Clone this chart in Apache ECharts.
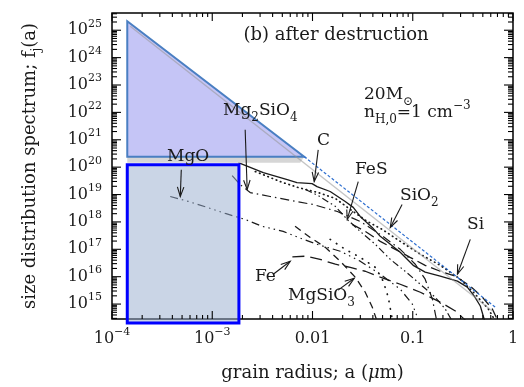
<!DOCTYPE html>
<html><head><meta charset="utf-8">
<script src="https://cdn.jsdelivr.net/npm/echarts@6/dist/echarts.min.js"></script>
<style>html,body{margin:0;padding:0;background:#fff}#c{width:524px;height:387px}</style>
</head><body><div id="c"></div>
<script>
const FONT = 'DejaVu Serif';
// ---- axis ranges and tick labels ----
const xMin = 1e-4, xMax = 1;
const yMin = 2.85e14, yMax = 4.26e25;
const xTickValues = [1e-4, 1e-3, 0.01, 0.1, 1];
const xTickText = [['10', '−4'], ['10', '−3'], ['0.01', ''], ['0.1', ''], ['1', '']];
const yTickValues = [1e15, 1e16, 1e17, 1e18, 1e19, 1e20, 1e21, 1e22, 1e23, 1e24, 1e25];
const yTickText = ['15', '16', '17', '18', '19', '20', '21', '22', '23', '24', '25'];

// ---- size distributions (radius in micron, f_j(a)) ----
const cRadius = [1.82e-3, 3.23e-3, 5.6e-3, 7.0e-3, 9.9e-3, 1.11e-2, 1.5e-2, 2.12e-2, 2.55e-2, 2.99e-2, 3.94e-2, 4.74e-2, 5.97e-2, 7.5e-2, 0.101, 0.133, 0.188, 0.279, 0.35, 0.411, 0.472, 0.53];
const cF = [1.46e20, 6.3e19, 3.5e19, 2.7e19, 2.5e19, 1.95e19, 1.29e19, 5.6e18, 3.4e18, 1.58e18, 6.3e17, 2.97e17, 1.52e17, 7.8e16, 2.6e16, 1.46e16, 1.04e16, 6.9e15, 4.15e15, 1.95e15, 8.5e14, 2.0e14];

const sio2Radius = [2.69e-3, 3.23e-3, 4.76e-3, 7.2e-3, 1.14e-2, 1.69e-2, 2.38e-2, 3.52e-2, 4.97e-2, 7.5e-2, 0.119, 0.188, 0.298, 0.42, 0.568, 0.667];
const sio2F = [6.9e19, 5.3e19, 2.97e19, 1.8e19, 1.18e19, 7.2e18, 2.85e18, 1.04e18, 5.3e17, 1.95e17, 6.6e16, 2.6e16, 8.1e15, 2.3e15, 6.6e14, 2.4e14];

const siRadius = [2.49e-2, 3.36e-2, 4.74e-2, 6.7e-2, 9.4e-2, 0.133, 0.188, 0.266, 0.375, 0.494, 0.622, 0.74];
const siF = [8.1e17, 4.5e17, 1.95e17, 1.0e17, 5.1e16, 2.6e16, 1.58e16, 1.04e16, 4.5e15, 1.8e15, 6.6e14, 1.7e14];

const feRadius = [6.3e-3, 8.5e-3, 1.19e-2, 1.69e-2, 2.38e-2, 3.36e-2, 4.74e-2, 7.5e-2, 0.119, 0.188, 0.266, 0.342];
const feF = [5.3e16, 5.6e16, 4.3e16, 2.85e16, 2.2e16, 1.58e16, 9.6e15, 5.3e15, 2.7e15, 1.18e15, 5.6e14, 2.4e14];

const fesRadius = [8.5e-3, 1.14e-2, 1.69e-2, 2.22e-2, 2.99e-2, 4.23e-2, 5.97e-2, 8.4e-2, 0.119, 0.167, 0.211, 0.247];
const fesF = [1.52e19, 9.2e18, 3.7e18, 1.23e18, 4.5e17, 1.52e17, 4.3e16, 1.58e16, 5.3e15, 1.8e15, 6.6e14, 2.4e14];

const mg2sio4Radius = [1.58e-3, 1.9e-3, 2.39e-3, 3.78e-3, 6.0e-3, 1.02e-2, 1.77e-2, 2.99e-2, 4.74e-2, 7.5e-2, 0.106, 0.133, 0.157, 0.172];
const mg2sio4F = [4.9e19, 2.3e19, 1.18e19, 8.5e18, 6.1e18, 4.3e18, 2.4e18, 1.04e18, 3.5e17, 1.0e17, 2.85e16, 8.1e15, 1.52e15, 2.85e14];

const mgoRadius = [3.81e-4, 5.77e-4, 8.9e-4, 1.35e-3, 2.13e-3, 3.16e-3, 5.1e-3, 8.1e-3, 1.19e-2, 1.89e-2, 2.99e-2, 4.74e-2, 7.5e-2, 9.9e-2, 0.113];
const mgoF = [8.5e18, 5.6e18, 3.4e18, 2.04e18, 1.23e18, 6.9e17, 4.5e17, 2.31e17, 1.4e17, 8.5e16, 3.7e16, 1.23e16, 3.5e15, 1.0e15, 2.85e14];

const mgsio3Radius = [6.7e-3, 9.5e-3, 1.34e-2, 1.89e-2, 2.67e-2, 3.36e-2, 3.94e-2, 4.33e-2];
const mgsio3F = [6.9e17, 2.7e17, 1.18e17, 3.7e16, 9.6e15, 2.7e15, 7.8e14, 2.85e14];

const otherRadius = [1.5e-2, 2.12e-2, 2.99e-2, 4.23e-2, 5.07e-2, 5.69e-2, 6.24e-2];
const otherF = [2.31e17, 1.0e17, 5.1e16, 2.2e16, 6.9e15, 1.8e15, 2.85e14];

// ---- overlay shapes (data coordinates) ----
const triangleCorners = [[1.42e-4, 2.12e25], [1.42e-4, 2.41e20], [8.26e-3, 2.41e20]];
const bandCorners = [[1.42e-4, 2.41e20], [8.26e-3, 2.41e20], [7.55e-3, 1.46e20], [1.42e-4, 1.46e20]];
const shadowEnds = [[1.52e-4, 1.4e25], [0.622, 5.6e14]];
const dashEnds = [[8.26e-3, 2.41e20], [0.663, 7.8e14]];
const rectCorners = [[1.42e-4, 1.23e20], [1.845e-3, 1.23e20], [1.845e-3, 2.04e14], [1.42e-4, 2.04e14]];

// ---- annotation arrows: tail -> tip ----
const arrowTails = [[2.13e-3, 2.31e21], [4.91e-4, 8.1e19], [1.14e-2, 4.3e20], [2.86e-2, 2.97e19], [7.83e-2, 4.33e18], [0.375, 2.31e17], [4.06e-3, 1.23e16], [1.8e-2, 3.23e15]];
const arrowTips = [[2.23e-3, 1.52e19], [4.8e-4, 8.5e18], [1.04e-2, 2.97e19], [2.22e-2, 1.23e18], [5.97e-2, 6.3e17], [0.279, 1.23e16], [6.0e-3, 3.66e16], [2.61e-2, 8.8e15]];

const zip = (a, b) => a.map((v, i) => [v, b[i]]);
const INK = '#1a1a1a';

function lineSeries(name, rx, fy, type, width, cap) {
  return {
    type: 'line', name, data: zip(rx, fy), symbol: 'none', smooth: false, z: 2,
    lineStyle: { color: INK, width: width || 1.2, type: type, cap: cap || 'butt' },
    clip: true, silent: true
  };
}

function richSet(size) {
  return {
    m: { fontFamily: FONT, fontSize: size, lineHeight: 26, verticalAlign: 'middle', fill: INK },
    sub: { fontFamily: FONT, fontSize: 12, lineHeight: 12, verticalAlign: 'bottom', fill: INK },
    sup: { fontFamily: FONT, fontSize: 12, lineHeight: 12, verticalAlign: 'top', fill: INK }
  };
}

function gText(text, x, y, align, rot, size) {
  const fs = size || 17;
  return {
    type: 'text', x, y, rotation: rot || 0, z: 20, silent: true,
    style: { text, rich: richSet(fs), fontFamily: FONT, fontSize: fs, fill: INK,
      align: align || 'left', verticalAlign: 'middle', textAlign: align || 'left', textVerticalAlign: 'middle' }
  };
}

const chart = echarts.init(document.getElementById('c'), null, { renderer: 'canvas' });
const option = {
  animation: false,
  backgroundColor: '#fff',
  grid: { left: 112, right: 11, top: 13, bottom: 67, show: true, borderColor: '#000', borderWidth: 1.5, backgroundColor: 'transparent' },
  xAxis: {
    type: 'log', logBase: 10, min: xMin, max: xMax,
    axisLine: { show: false }, axisTick: { show: false }, splitLine: { show: false },
    axisLabel: {
      margin: 8, interval: 0, hideOverlap: false, color: INK,
      formatter: function (v) {
        const i = xTickValues.findIndex(t => Math.abs(Math.log10(t) - Math.log10(v)) < 1e-6);
        if (i < 0) return '';
        const t = xTickText[i];
        return t[1] ? '{b|' + t[0] + '}{s|' + t[1] + '}' : '{b|' + t[0] + '}';
      },
      rich: {
        b: { fontFamily: FONT, fontSize: 16, lineHeight: 24, verticalAlign: 'middle', color: INK },
        s: { fontFamily: FONT, fontSize: 11, lineHeight: 11, verticalAlign: 'top', color: INK }
      }
    },
    name: 'grain radius; a ({i|μ}m)', nameLocation: 'middle', nameGap: 45,
    nameTextStyle: { fontFamily: FONT, fontSize: 18, color: INK,
      rich: { i: { fontFamily: FONT, fontSize: 18, fontStyle: 'italic', color: INK } } }
  },
  yAxis: {
    type: 'log', logBase: 10, min: yMin, max: yMax,
    axisLine: { show: false }, axisTick: { show: false }, splitLine: { show: false },
    axisLabel: { show: false }
  },
  graphic: [
    gText('{m|size distribution spectrum; f}{sub|j}{m|(a)}', 30, 166, 'center', Math.PI / 2, 18),
    gText('{m|(b) after destruction}', 336, 35, 'center', 0, 18),
    gText('{m|20M}{sub|⊙}', 364, 95),
    gText('{m|n}{sub|H,0}{m|=1 cm}{sup|−3}', 364, 113),
    gText('{m|Mg}{sub|2}{m|SiO}{sub|4}', 223, 111),
    gText('{m|MgO}', 167, 157),
    gText('{m|C}', 317, 141),
    gText('{m|FeS}', 355, 170),
    gText('{m|SiO}{sub|2}', 400, 196),
    gText('{m|Si}', 467, 225),
    gText('{m|Fe}', 255, 277),
    gText('{m|MgSiO}{sub|3}', 288, 296)
  ],
  series: [
    lineSeries('C', cRadius, cF, 'solid', 1.3),
    lineSeries('SiO2', sio2Radius, sio2F, [0.5, 4], 1.7, 'round'),
    lineSeries('Si', siRadius, siF, [10, 5], 1.3),
    lineSeries('Fe', feRadius, feF, [12, 6], 1.3),
    lineSeries('FeS', fesRadius, fesF, [7, 3, 1.5, 3, 1.5, 3], 1.2),
    lineSeries('Mg2SiO4', mg2sio4Radius, mg2sio4F, [9, 4, 1.5, 4], 1.2),
    lineSeries('MgO', mgoRadius, mgoF, [8, 4, 1.5, 4, 1.5, 4, 1.5, 4], 1.2),
    lineSeries('MgSiO3', mgsio3Radius, mgsio3F, [7, 5], 1.3),
    lineSeries('other', otherRadius, otherF, [0.5, 7], 1.7, 'round'),
    {
      type: 'custom', name: 'overlay', z: 3, silent: true, clip: false,
      data: [[xMin, yMin]],
      renderItem: function (params, api) {
        const pts = arr => arr.map(p => api.coord(p));
        const s0 = api.coord(shadowEnds[0]), s1 = api.coord(shadowEnds[1]);
        const d0 = api.coord(dashEnds[0]), d1 = api.coord(dashEnds[1]);
        return { type: 'group', children: [
          { type: 'polygon', shape: { points: pts(bandCorners) }, style: { fill: '#d6d6d6', stroke: null } },
          { type: 'polygon', shape: { points: pts(triangleCorners) }, style: { fill: 'rgba(110,110,232,0.40)', stroke: '#4a7fc2', lineWidth: 2 } },
          { type: 'line', shape: { x1: s0[0], y1: s0[1], x2: s1[0], y2: s1[1] }, style: { stroke: 'rgba(150,150,150,0.55)', lineWidth: 1.4 } },
          { type: 'line', shape: { x1: d0[0], y1: d0[1], x2: d1[0], y2: d1[1] }, style: { stroke: '#2f6fcf', lineWidth: 1.2, lineDash: [3, 2] } },
          { type: 'polygon', shape: { points: pts(rectCorners) }, style: { fill: 'rgba(150,172,205,0.5)', stroke: '#0000ff', lineWidth: 3 } }
        ] };
      }
    },
    {
      type: 'custom', name: 'frame', z: 4, silent: true, clip: false,
      data: [[xMin, yMin]],
      renderItem: function (params, api) {
        const ch = [];
        const tick = (x1, y1, x2, y2) => ch.push({ type: 'line', shape: { x1, y1, x2, y2 }, style: { stroke: '#000', lineWidth: 1.1 } });
        for (let k = -4; k <= 0; k++) {
          for (let m = 1; m <= 9; m++) {
            const v = m * Math.pow(10, k);
            if (v < xMin * 0.999 || v > xMax * 1.001) continue;
            const pb = api.coord([v, yMin]), pt = api.coord([v, yMax]);
            const len = m === 1 ? 8 : 4;
            tick(pb[0], pb[1], pb[0], pb[1] - len);
            tick(pt[0], pt[1], pt[0], pt[1] + len);
          }
        }
        for (let k = 14; k <= 25; k++) {
          for (let m = 1; m <= 9; m++) {
            const v = m * Math.pow(10, k);
            if (v < yMin || v > yMax) continue;
            const pl = api.coord([xMin, v]), pr = api.coord([xMax, v]);
            const len = m === 1 ? 9 : 5;
            tick(pl[0], pl[1], pl[0] + len, pl[1]);
            tick(pr[0], pr[1], pr[0] - len, pr[1]);
          }
        }
        yTickValues.forEach((v, i) => {
          const p = api.coord([xMin, v]);
          ch.push({ type: 'text', x: p[0] - 10, y: p[1], style: {
            text: '{b|10}{s|' + yTickText[i] + '}', align: 'right', verticalAlign: 'middle', fill: INK,
            fontFamily: FONT, fontSize: 16,
            rich: {
              b: { fontFamily: FONT, fontSize: 16, lineHeight: 24, verticalAlign: 'middle', fill: INK },
              s: { fontFamily: FONT, fontSize: 11, lineHeight: 11, verticalAlign: 'top', fill: INK }
            } } });
        });
        return { type: 'group', children: ch };
      }
    },
    {
      type: 'custom', name: 'arrows', z: 5, silent: true, clip: false,
      encode: { x: [0, 2], y: [1, 3] },
      data: arrowTails.map((t, i) => [t[0], t[1], arrowTips[i][0], arrowTips[i][1]]),
      renderItem: function (params, api) {
        const p1 = api.coord([api.value(0), api.value(1)]);
        const p2 = api.coord([api.value(2), api.value(3)]);
        const ang = Math.atan2(p2[1] - p1[1], p2[0] - p1[0]);
        const L = 10, h = 0.33;
        const a1 = [p2[0] - L * Math.cos(ang - h), p2[1] - L * Math.sin(ang - h)];
        const a2 = [p2[0] - L * Math.cos(ang + h), p2[1] - L * Math.sin(ang + h)];
        return { type: 'group', children: [
          { type: 'line', shape: { x1: p1[0], y1: p1[1], x2: p2[0], y2: p2[1] }, style: { stroke: INK, lineWidth: 1.1 } },
          { type: 'polyline', shape: { points: [a1, p2, a2] }, style: { stroke: INK, lineWidth: 1.1, fill: null } }
        ] };
      }
    }
  ]
};
chart.setOption(option);
</script></body></html>
